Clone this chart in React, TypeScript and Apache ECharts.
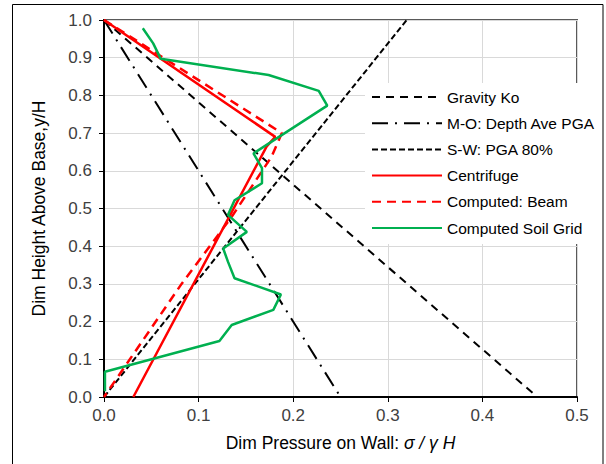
import React, { useEffect, useRef } from "react";
import * as echarts from "echarts";

const xTicks = [0, 0.1, 0.2, 0.3, 0.4, 0.5];
const yTicks = [0, 0.1, 0.2, 0.3, 0.4, 0.5, 0.6, 0.7, 0.8, 0.9, 1.0];

const koX = [0, 0.458];
const koY = [1.0, 0.0];

const moX = [0, 0.25];
const moY = [1.0, 0.0];

const swX = [0, 0.32];
const swY = [0.0, 1.0];

const centrifugeX = [0, 0.181, 0.172, 0.031];
const centrifugeY = [1.0, 0.69, 0.665, 0.0];

const beamX = [0, 0.188, 0.177, 0.135, 0.082, 0];
const beamY = [1.0, 0.7, 0.637, 0.478, 0.3, 0.0];

const soilX = [0.041, 0.052, 0.06, 0.174, 0.227, 0.236, 0.158, 0.167, 0.167, 0.138, 0.131, 0.151, 0.126, 0.131, 0.138, 0.187, 0.179, 0.135, 0.122, 0.001, 0.001];
const soilY = [0.978, 0.938, 0.897, 0.854, 0.812, 0.773, 0.646, 0.607, 0.567, 0.522, 0.483, 0.438, 0.394, 0.359, 0.315, 0.272, 0.231, 0.191, 0.1485, 0.067, 0.015];

const names = [
  "Gravity Ko",
  "M-O: Depth Ave PGA",
  "S-W: PGA 80%",
  "Centrifuge",
  "Computed: Beam",
  "Computed Soil Grid",
];

const zip = (xs: number[], ys: number[]) => xs.map((x, i) => [x, ys[i]]);

export default function App() {
  const ref = useRef<HTMLDivElement>(null);
  useEffect(() => {
    if (!ref.current) return;
    const chart = echarts.init(ref.current, undefined, { renderer: "svg" });
    const font = "Liberation Sans, Arial, sans-serif";
    const mk = (name: string, data: number[][], color: string, width: number, type: any) => ({
      name,
      type: "line",
      data,
      symbol: "none",
      showSymbol: false,
      lineStyle: { color, width, type, cap: "butt" },
      itemStyle: { color },
    });
    chart.setOption({
      animation: false,
      textStyle: { fontFamily: font },
      grid: {
        left: 104,
        right: 29,
        top: 20,
        bottom: 67,
        show: true,
        borderColor: "#595959",
        borderWidth: 2,
        backgroundColor: "transparent",
      },
      graphic: [
        {
          type: "rect",
          shape: { x: 12.5, y: 4.5, width: 590.5, height: 470 },
          style: { fill: "none", stroke: "#000", lineWidth: 1 },
          silent: true,
          z: 100,
        },
      ],
      legend: {
        orient: "vertical",
        left: 365,
        top: 83,
        padding: [6, 6, 8, 6],
        itemWidth: 70,
        itemHeight: 14,
        itemGap: 10.2,
        backgroundColor: "#fff",
        itemStyle: { opacity: 0, color: "transparent", borderWidth: 0 },
        lineStyle: { width: 2 },
        textStyle: { fontSize: 15.5, color: "#000", fontFamily: font },
        data: names,
      },
      xAxis: {
        type: "value",
        min: 0,
        max: 0.5,
        interval: 0.1,
        name: "{a|Dim Pressure on Wall: }{b|σ / γ H}",
        nameLocation: "middle",
        nameGap: 37,
        nameTextStyle: {
          rich: {
            a: { fontSize: 17.5, color: "#000", fontFamily: font },
            b: { fontSize: 17.5, color: "#000", fontFamily: font, fontStyle: "italic" },
          },
        },
        axisLine: { show: true, onZero: false, lineStyle: { color: "#000", width: 2 } },
        axisTick: { show: true, inside: false, length: 5, lineStyle: { color: "#000", width: 1 } },
        axisLabel: {
          fontSize: 17,
          color: "#404040",
          margin: 10,
          formatter: (v: number) => v.toFixed(1),
        },
        splitLine: { show: true, lineStyle: { color: "#d9d9d9", width: 1 } },
      },
      yAxis: {
        type: "value",
        min: 0,
        max: 1,
        interval: 0.1,
        name: "Dim Height Above Base,y/H",
        nameLocation: "middle",
        nameGap: 56,
        nameTextStyle: { fontSize: 17.5, color: "#000", fontFamily: font },
        axisLine: { show: true, onZero: false, lineStyle: { color: "#000", width: 2 } },
        axisTick: { show: true, inside: false, length: 5, lineStyle: { color: "#000", width: 1 } },
        axisLabel: {
          fontSize: 17,
          color: "#404040",
          margin: 12,
          formatter: (v: number) => v.toFixed(1),
        },
        splitLine: { show: true, lineStyle: { color: "#d9d9d9", width: 1 } },
      },
      series: [
        mk(names[0], zip(koX, koY), "#000", 2, [8, 6]),
        mk(names[1], zip(moX, moY), "#000", 2, [16, 7, 2, 7]),
        mk(names[2], zip(swX, swY), "#000", 2, [6, 3]),
        mk(names[3], zip(centrifugeX, centrifugeY), "#ff0000", 2.5, "solid"),
        mk(names[4], zip(beamX, beamY), "#ff0000", 2.5, [9, 6]),
        mk(names[5], zip(soilX, soilY), "#00b050", 2.5, "solid"),
      ],
    });
    return () => chart.dispose();
  }, []);
  return (
    <div
      ref={ref}
      style={{ position: "fixed", left: 0, top: 0, width: 606, height: 464, background: "#fff" }}
    />
  );
}
